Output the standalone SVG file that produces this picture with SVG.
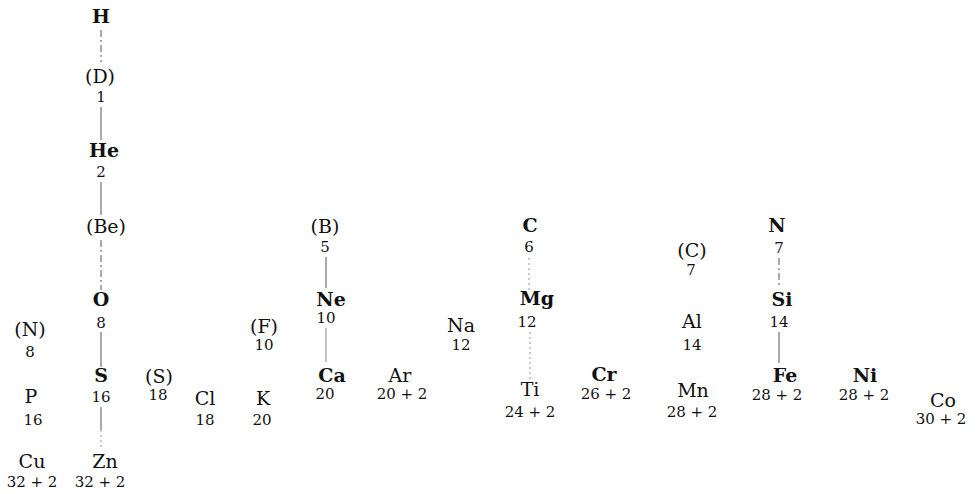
<svg xmlns="http://www.w3.org/2000/svg" width="979" height="494" viewBox="0 0 979 494">
<style>
text{font-family:"DejaVu Serif","Liberation Serif",serif;text-anchor:middle;fill:#111}
.n{font-size:19px}
.b{font-size:19px;font-weight:bold}
.z{font-size:15px}
.c line{stroke:#555;stroke-width:1}
.d{stroke-dasharray:7 3 2 3}
.t{stroke-dasharray:2 3;stroke:#999!important}
</style>
<rect width="979" height="494" fill="#fff"/>
<g class="c" id="connectors">
<line class="d" x1="101" y1="30" x2="101" y2="62"/>
<line x1="101" y1="107" x2="101" y2="140"/>
<line x1="101" y1="182" x2="101" y2="215"/>
<line class="d" x1="101" y1="240" x2="101" y2="290"/>
<line x1="101" y1="332" x2="101" y2="367"/>
<line x1="101" y1="407" x2="101" y2="430"/>
<line class="t" x1="101" y1="430" x2="101" y2="450"/>
<line x1="326" y1="257" x2="326" y2="288"/>
<line x1="326" y1="328" x2="326" y2="362" style="stroke:#888"/>
<line class="t" x1="529" y1="258" x2="529" y2="290"/>
<line class="t" x1="530" y1="332" x2="530" y2="380"/>
<line class="d" x1="779" y1="258" x2="779" y2="287"/>
<line x1="779" y1="332" x2="779" y2="363"/>
</g>
<g id="H"><text class="b" x="101" y="23">H</text></g>
<g id="D"><text class="n" x="100" y="83">(D)</text><text class="z" x="101" y="102">1</text></g>
<g id="He"><text class="b" x="104" y="157">He</text><text class="z" x="101" y="177">2</text></g>
<g id="Be"><text class="n" x="106" y="233">(Be)</text></g>
<g id="O"><text class="b" x="101" y="306">O</text><text class="z" x="101" y="328">8</text></g>
<g id="S"><text class="b" x="101" y="382">S</text><text class="z" x="101" y="402">16</text></g>
<g id="Zn"><text class="n" x="105" y="468">Zn</text><text class="z" x="100" y="487">32 + 2</text></g>
<g id="Cu"><text class="n" x="32" y="468">Cu</text><text class="z" x="32" y="487">32 + 2</text></g>
<g id="N2"><text class="n" x="30" y="336">(N)</text><text class="z" x="30" y="357">8</text></g>
<g id="P"><text class="n" x="31" y="403">P</text><text class="z" x="33" y="425">16</text></g>
<g id="S2"><text class="n" x="159" y="383">(S)</text><text class="z" x="158" y="400">18</text></g>
<g id="Cl"><text class="n" x="205" y="405">Cl</text><text class="z" x="205" y="425">18</text></g>
<g id="K"><text class="n" x="263" y="405">K</text><text class="z" x="262" y="425">20</text></g>
<g id="F"><text class="n" x="264" y="333">(F)</text><text class="z" x="264" y="350">10</text></g>
<g id="B"><text class="n" x="325" y="233">(B)</text><text class="z" x="325" y="252">5</text></g>
<g id="Ne"><text class="b" x="331" y="306">Ne</text><text class="z" x="326" y="323">10</text></g>
<g id="Ca"><text class="b" x="332" y="382">Ca</text><text class="z" x="325" y="399">20</text></g>
<g id="Ar"><text class="n" x="400" y="382">Ar</text><text class="z" x="402" y="399">20 + 2</text></g>
<g id="Na"><text class="n" x="461" y="332">Na</text><text class="z" x="461" y="350">12</text></g>
<g id="C"><text class="b" x="530" y="232">C</text><text class="z" x="529" y="252">6</text></g>
<g id="Mg"><text class="b" x="537" y="305">Mg</text><text class="z" x="527" y="327">12</text></g>
<g id="Ti"><text class="n" x="530" y="396">Ti</text><text class="z" x="530" y="417">24 + 2</text></g>
<g id="Cr"><text class="b" x="604" y="381">Cr</text><text class="z" x="606" y="399">26 + 2</text></g>
<g id="C2"><text class="n" x="692" y="257">(C)</text><text class="z" x="691" y="275">7</text></g>
<g id="Al"><text class="n" x="692" y="328">Al</text><text class="z" x="692" y="350">14</text></g>
<g id="Mn"><text class="n" x="693" y="397">Mn</text><text class="z" x="692" y="417">28 + 2</text></g>
<g id="N"><text class="b" x="777" y="232">N</text><text class="z" x="779" y="253">7</text></g>
<g id="Si"><text class="b" x="782" y="306">Si</text><text class="z" x="779" y="327">14</text></g>
<g id="Fe"><text class="b" x="785" y="382">Fe</text><text class="z" x="777" y="400">28 + 2</text></g>
<g id="Ni"><text class="b" x="865" y="382">Ni</text><text class="z" x="864" y="400">28 + 2</text></g>
<g id="Co"><text class="n" x="943" y="407">Co</text><text class="z" x="941" y="424">30 + 2</text></g>
</svg>
